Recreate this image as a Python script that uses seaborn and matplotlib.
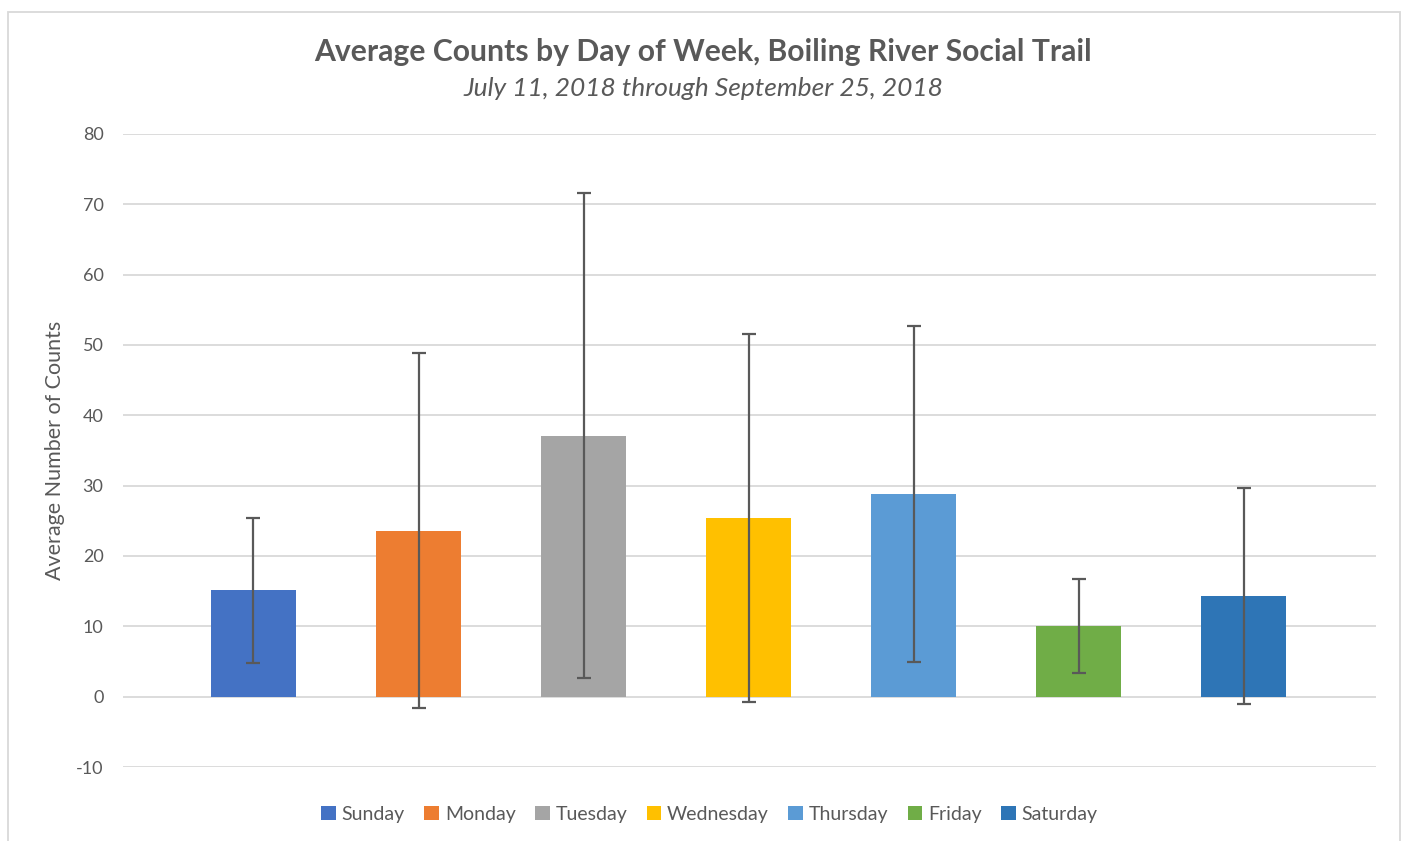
import numpy as np
import pandas as pd
import matplotlib
matplotlib.use("Agg")
import matplotlib.pyplot as plt
from matplotlib.patches import Rectangle
import seaborn as sns

days = ["Sunday", "Monday", "Tuesday", "Wednesday", "Thursday", "Friday", "Saturday"]
means = [15.1, 23.6, 37.1, 25.4, 28.8, 10.1, 14.3]
errors = [10.25, 25.25, 34.5, 26.1, 23.9, 6.7, 15.4]
colors = ["#4472C4", "#ED7D31", "#A5A5A5", "#FFC000", "#5B9BD5", "#70AD47", "#2E75B6"]
yticks = [-10, 0, 10, 20, 30, 40, 50, 60, 70, 80]

sns.set_theme(style="white")
plt.rcParams['font.family'] = ['Lato', 'DejaVu Sans']

df = pd.DataFrame({"day": days, "mean": means, "err": errors})

fig = plt.figure(figsize=(14.06, 8.41), dpi=100)
ax = fig.add_axes([123/1406, 1-767/841, (1376-123)/1406, (767-134)/841])

sns.barplot(data=df, x="day", y="mean", hue="day", palette=colors, order=days,
            hue_order=days, width=0.515, dodge=False, legend=True, ax=ax,
            saturation=1, edgecolor="none", errorbar=None)

pos = np.arange(len(days))
ax.errorbar(pos, means, yerr=errors, fmt="none", ecolor="#595959",
            elinewidth=1.6, capsize=5, capthick=1.6, zorder=5)

ax.set_ylim(-10, 80)
ax.set_xlim(-0.79, 6.80)
ax.set_yticks(yticks)
ax.set_yticklabels([str(t) for t in yticks], color="#595959", fontsize=13)
ax.tick_params(axis="y", length=0, pad=14)
ax.set_xticks([])
ax.set_xlabel("")
ax.set_ylabel("Average Number of Counts", color="#595959", fontsize=15.5, labelpad=8)
ax.grid(axis="y", color="#D9D9D9", linewidth=1.3)
ax.set_axisbelow(True)
for s in ax.spines.values():
    s.set_visible(False)

leg = ax.legend(loc="upper center", bbox_to_anchor=(0.468, -0.034), ncol=7, frameon=False,
                fontsize=14, handlelength=0.75, handleheight=0.75, handletextpad=0.3,
                columnspacing=1.0, labelcolor="#595959")

fig.text(0.5, 1-52/841, "Average Counts by Day of Week, Boiling River Social Trail",
         ha="center", va="center", fontsize=21.7, fontweight="bold", color="#595959")
fig.text(0.5, 1-88/841, "July 11, 2018 through September 25, 2018",
         ha="center", va="center", fontsize=19, fontstyle="italic", color="#595959")

fig.patches.append(Rectangle((8/1406, -0.02), (1400-8)/1406, 1.02-12/841,
                             transform=fig.transFigure, fill=False,
                             edgecolor="#D9D9D9", linewidth=1.3))

fig.savefig("out.png", dpi=100)
